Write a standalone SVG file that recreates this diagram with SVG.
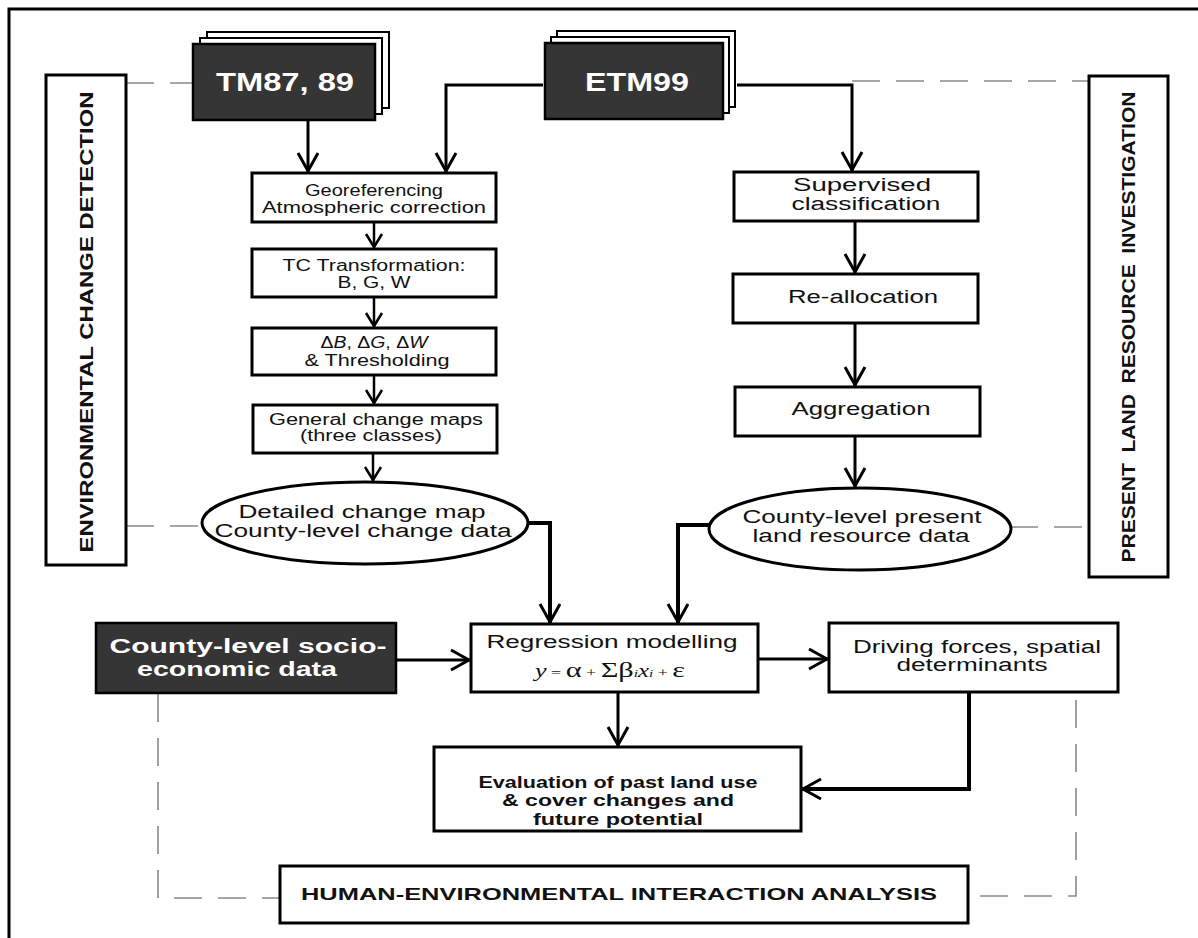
<svg xmlns="http://www.w3.org/2000/svg" width="1198" height="938" viewBox="0 0 1198 938">
<style>
.box{fill:#fff;stroke:#000;stroke-width:3}
.dark{fill:#353535;stroke:#000;stroke-width:2.5}
.card{fill:#fff;stroke:#000;stroke-width:2}
.t{font-family:"Liberation Sans",Arial,sans-serif;font-size:16px;fill:#111;text-anchor:middle}
.t18{font-family:"Liberation Sans",Arial,sans-serif;font-size:18px;fill:#111;text-anchor:middle}
.tb{font-family:"Liberation Sans",Arial,sans-serif;font-weight:bold;fill:#111;text-anchor:middle}
.tw{font-family:"Liberation Sans",Arial,sans-serif;font-weight:bold;fill:#fff;text-anchor:middle}
.c{fill:none;stroke:#000;stroke-width:3}
.cs{fill:none;stroke:#000;stroke-width:2.5}
.ct{fill:none;stroke:#000;stroke-width:4}
.d{fill:none;stroke:#8a8a8a;stroke-width:1.6;stroke-dasharray:28 16}
</style>
<defs>
<marker id="ah" markerUnits="userSpaceOnUse" markerWidth="30" markerHeight="30" viewBox="-22 -15 26 30" refX="1" refY="0" orient="auto">
<path d="M-18,-10 L0,0 L-18,10" fill="none" stroke="#000" stroke-width="3"/>
</marker>
<marker id="ahs" markerUnits="userSpaceOnUse" markerWidth="24" markerHeight="24" viewBox="-18 -12 22 24" refX="1" refY="0" orient="auto">
<path d="M-13,-8 L0,0 L-13,8" fill="none" stroke="#000" stroke-width="2.5"/>
</marker>
</defs>
<rect width="1198" height="938" fill="#fff"/>
<path d="M9,938 V9 H1198" fill="none" stroke="#000" stroke-width="3"/>

<g id="connectors">
<path class="d" d="M126,83 H193"/>
<path class="d" d="M852,81 H1089"/>
<path class="d" d="M126,526 H202"/>
<path class="d" d="M1010,527 H1089"/>
<path class="d" d="M158,694 V898 H280"/>
<path class="d" d="M1076,700 V896 H968"/>
<path class="c" d="M308,120 V172" marker-end="url(#ah)"/>
<path class="c" d="M543,85 H446 V172" marker-end="url(#ah)"/>
<path class="c" d="M737,85 H852 V171" marker-end="url(#ah)"/>
<path class="cs" d="M374,222 V248" marker-end="url(#ahs)"/>
<path class="cs" d="M374,297 V327" marker-end="url(#ahs)"/>
<path class="cs" d="M374,375 V404" marker-end="url(#ahs)"/>
<path class="cs" d="M373,453 V481" marker-end="url(#ahs)"/>
<path class="c" d="M855,221 V273" marker-end="url(#ah)"/>
<path class="c" d="M855,323 V386" marker-end="url(#ah)"/>
<path class="c" d="M855,436 V487" marker-end="url(#ah)"/>
<path class="ct" d="M528,523 H550 V623" marker-end="url(#ah)"/>
<path class="ct" d="M709,525 H678 V623" marker-end="url(#ah)"/>
<path class="c" d="M396,660 H470" marker-end="url(#ah)"/>
<path class="c" d="M758,659 H828" marker-end="url(#ah)"/>
<path class="c" d="M618,692 V746" marker-end="url(#ah)"/>
<path class="ct" d="M969,692 V789 H802" marker-end="url(#ah)"/>
</g>

<g id="env-change-detection">
<rect class="box" x="46" y="75" width="80" height="490"/>
<text class="tb" font-size="18" transform="translate(86,322) rotate(-90)" dy="6.5" textLength="461" lengthAdjust="spacingAndGlyphs">ENVIRONMENTAL CHANGE DETECTION</text>
</g>

<g id="present-land-resource">
<rect class="box" x="1089" y="76" width="79" height="501"/>
<text class="tb" font-size="18" transform="translate(1128,327) rotate(-90)" dy="6.5" textLength="471" lengthAdjust="spacingAndGlyphs" word-spacing="4">PRESENT LAND RESOURCE INVESTIGATION</text>
</g>

<g id="tm8789">
<rect class="card" x="207" y="32" width="182" height="76"/>
<rect class="card" x="200" y="38" width="182" height="76"/>
<rect class="dark" x="193" y="44" width="182" height="76"/>
<text class="tw" font-size="26" x="285" y="91" textLength="138" lengthAdjust="spacingAndGlyphs">TM87, 89</text>
</g>

<g id="etm99">
<rect class="card" x="557" y="31" width="178" height="76"/>
<rect class="card" x="551" y="37" width="178" height="76"/>
<rect class="dark" x="545" y="43" width="178" height="76"/>
<text class="tw" font-size="26" x="637" y="91" textLength="104" lengthAdjust="spacingAndGlyphs">ETM99</text>
</g>

<g id="georeferencing">
<rect class="box" x="252" y="173" width="244" height="49"/>
<text class="t" x="374" y="196" textLength="138" lengthAdjust="spacingAndGlyphs">Georeferencing</text>
<text class="t" x="374" y="213" textLength="224" lengthAdjust="spacingAndGlyphs">Atmospheric correction</text>
</g>

<g id="tc-transformation">
<rect class="box" x="252" y="249" width="244" height="48"/>
<text class="t" x="374" y="271" textLength="183" lengthAdjust="spacingAndGlyphs">TC Transformation:</text>
<text class="t" x="374" y="288" textLength="73" lengthAdjust="spacingAndGlyphs">B, G, W</text>
</g>

<g id="thresholding">
<rect class="box" x="252" y="328" width="244" height="47"/>
<text class="t" x="374" y="348" textLength="107" lengthAdjust="spacingAndGlyphs">Δ<tspan font-style="italic">B</tspan>, Δ<tspan font-style="italic">G</tspan>, Δ<tspan font-style="italic">W</tspan></text>
<text class="t" x="377" y="366" textLength="145" lengthAdjust="spacingAndGlyphs">&amp; Thresholding</text>
</g>

<g id="general-change-maps">
<rect class="box" x="253" y="405" width="244" height="48"/>
<text class="t" x="376" y="425" textLength="214" lengthAdjust="spacingAndGlyphs">General change maps</text>
<text class="t" x="371" y="441" textLength="142" lengthAdjust="spacingAndGlyphs">(three classes)</text>
</g>

<g id="detailed-change-map">
<ellipse cx="365" cy="523" rx="163" ry="41" fill="#fff" stroke="#000" stroke-width="3"/>
<text class="t18" x="362" y="518" textLength="247" lengthAdjust="spacingAndGlyphs">Detailed change map</text>
<text class="t18" x="363" y="537" textLength="297" lengthAdjust="spacingAndGlyphs">County-level change data</text>
</g>

<g id="supervised-classification">
<rect class="box" x="734" y="172" width="244" height="49"/>
<text class="t18" x="862" y="191" textLength="138" lengthAdjust="spacingAndGlyphs">Supervised</text>
<text class="t18" x="866" y="210" textLength="149" lengthAdjust="spacingAndGlyphs">classification</text>
</g>

<g id="re-allocation">
<rect class="box" x="733" y="274" width="245" height="49"/>
<text class="t18" x="863" y="303" textLength="150" lengthAdjust="spacingAndGlyphs">Re-allocation</text>
</g>

<g id="aggregation">
<rect class="box" x="735" y="387" width="245" height="49"/>
<text class="t18" x="861" y="415" textLength="139" lengthAdjust="spacingAndGlyphs">Aggregation</text>
</g>

<g id="county-present-land">
<ellipse cx="860" cy="529" rx="151" ry="41" fill="#fff" stroke="#000" stroke-width="3"/>
<text class="t18" x="862" y="523" textLength="239" lengthAdjust="spacingAndGlyphs">County-level present</text>
<text class="t18" x="861" y="542" textLength="217" lengthAdjust="spacingAndGlyphs">land resource data</text>
</g>

<g id="socio-economic">
<rect class="dark" x="96" y="623" width="300" height="70"/>
<text class="tw" font-size="20" x="248" y="653" textLength="277" lengthAdjust="spacingAndGlyphs">County-level socio-</text>
<text class="tw" font-size="20" x="237" y="676" textLength="200" lengthAdjust="spacingAndGlyphs">economic data</text>
</g>

<g id="regression">
<rect class="box" x="471" y="624" width="287" height="68"/>
<text class="t18" x="612" y="648" textLength="251" lengthAdjust="spacingAndGlyphs">Regression modelling</text>
<text transform="translate(610,677) scale(1.38,1)" text-anchor="middle" font-family="Liberation Serif,Times New Roman,serif" fill="#111"><tspan font-style="italic" font-size="19">y</tspan><tspan font-size="13"> = </tspan><tspan font-size="22">α</tspan><tspan font-size="13"> + </tspan><tspan font-size="22">Σβ</tspan><tspan font-size="11" font-style="italic">i</tspan><tspan font-size="18" font-style="italic">x</tspan><tspan font-size="11" font-style="italic">i</tspan><tspan font-size="13"> + </tspan><tspan font-size="22">ε</tspan></text>
</g>

<g id="driving-forces">
<rect class="box" x="829" y="623" width="289" height="69"/>
<text class="t18" x="977" y="653" textLength="248" lengthAdjust="spacingAndGlyphs">Driving forces, spatial</text>
<text class="t18" x="972" y="671" textLength="151" lengthAdjust="spacingAndGlyphs">determinants</text>
</g>

<g id="evaluation">
<rect class="box" x="434" y="747" width="367" height="84"/>
<text class="tb" font-size="16" x="618" y="788" textLength="279" lengthAdjust="spacingAndGlyphs">Evaluation of past land use</text>
<text class="tb" font-size="16" x="618" y="806" textLength="232" lengthAdjust="spacingAndGlyphs">&amp; cover changes and</text>
<text class="tb" font-size="16" x="618" y="825" textLength="170" lengthAdjust="spacingAndGlyphs">future potential</text>
</g>

<g id="human-environmental">
<rect class="box" x="280" y="866" width="688" height="57"/>
<text class="tb" font-size="17" x="619" y="900" textLength="636" lengthAdjust="spacingAndGlyphs">HUMAN-ENVIRONMENTAL INTERACTION ANALYSIS</text>
</g>
</svg>
